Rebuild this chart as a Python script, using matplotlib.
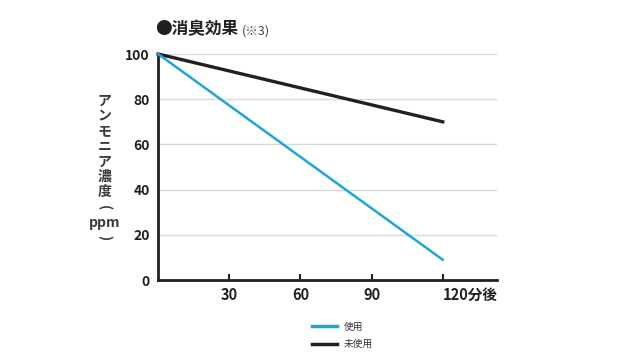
import matplotlib
matplotlib.use("Agg")
import matplotlib.pyplot as plt
from matplotlib.lines import Line2D
from matplotlib.transforms import ScaledTranslation

plt.rcParams['font.family'] = ['Noto Sans CJK JP', 'DejaVu Sans']

# データ（分後, アンモニア濃度 ppm）
minutes = [0, 120]
used = [100, 9]
unused = [100, 70]
xticks = [30, 60, 90, 120]
xtick_labels = ['30', '60', '90', '120分後']
yticks = [0, 20, 40, 60, 80, 100]
ylabel_chars = ['ア', 'ン', 'モ', 'ニ', 'ア', '濃', '度', '(', 'ppm', ')']

blue = '#1fa5dc'
black = '#231f20'

fig = plt.figure(figsize=(6.4, 3.6), dpi=100)
ax = fig.add_axes([0.247, 0.222, 0.53, 0.628])

ax.plot(minutes, unused, color=black, linewidth=2.4, clip_on=False, zorder=3)
ax.plot(minutes, used, color=blue, linewidth=1.8, clip_on=False, zorder=4)

ax.set_xlim(0, 143)
ax.set_ylim(0, 100)

ax.set_yticks(yticks)
ax.set_yticklabels([str(v) for v in yticks], fontsize=10, fontweight='bold', color=black)
ax.set_xticks(xticks)
ax.set_xticklabels(xtick_labels, fontsize=10.5, fontweight='bold', color=black)
last = ax.get_xticklabels()[-1]
last.set_ha('left')
last.set_transform(last.get_transform() + ScaledTranslation(-0.06, 0, fig.dpi_scale_trans))

ax.tick_params(axis='y', length=0, pad=6)
ax.tick_params(axis='x', direction='in', length=4, width=1.5, color=black, pad=5)

ax.grid(axis='y', color='#d9d9d9', linewidth=1)
ax.set_axisbelow(True)

for s in ['top', 'right']:
    ax.spines[s].set_visible(False)
for s in ['left', 'bottom']:
    ax.spines[s].set_linewidth(2)
    ax.spines[s].set_color(black)

# 縦書きのラベル（1文字ずつ）
y0 = 1 - 101 / 360
step = 15.2 / 360
for i, ch in enumerate(ylabel_chars):
    rot = -90 if ch in '()' else 0
    fig.text(0.163, y0 - i * step, ch, ha='center', va='center', rotation=rot,
             fontsize=10, fontweight='bold', color='#3a3a3a')

# タイトル
fig.text(0.242, 0.918, '●消臭効果', fontsize=12, fontweight='bold', color=black, ha='left', va='center')
fig.text(0.378, 0.915, '(※3)', fontsize=9, color='#444444', ha='left', va='center')

handles = [Line2D([], [], color=blue, linewidth=2.5),
           Line2D([], [], color=black, linewidth=2.5)]
fig.legend(handles, ['使用', '未使用'], loc='center', bbox_to_anchor=(0.535, 0.068),
           frameon=False, fontsize=7, handlelength=2.6, handletextpad=0.7, labelspacing=0.75,
           labelcolor='#333333')

fig.savefig('out.png', dpi=100)
